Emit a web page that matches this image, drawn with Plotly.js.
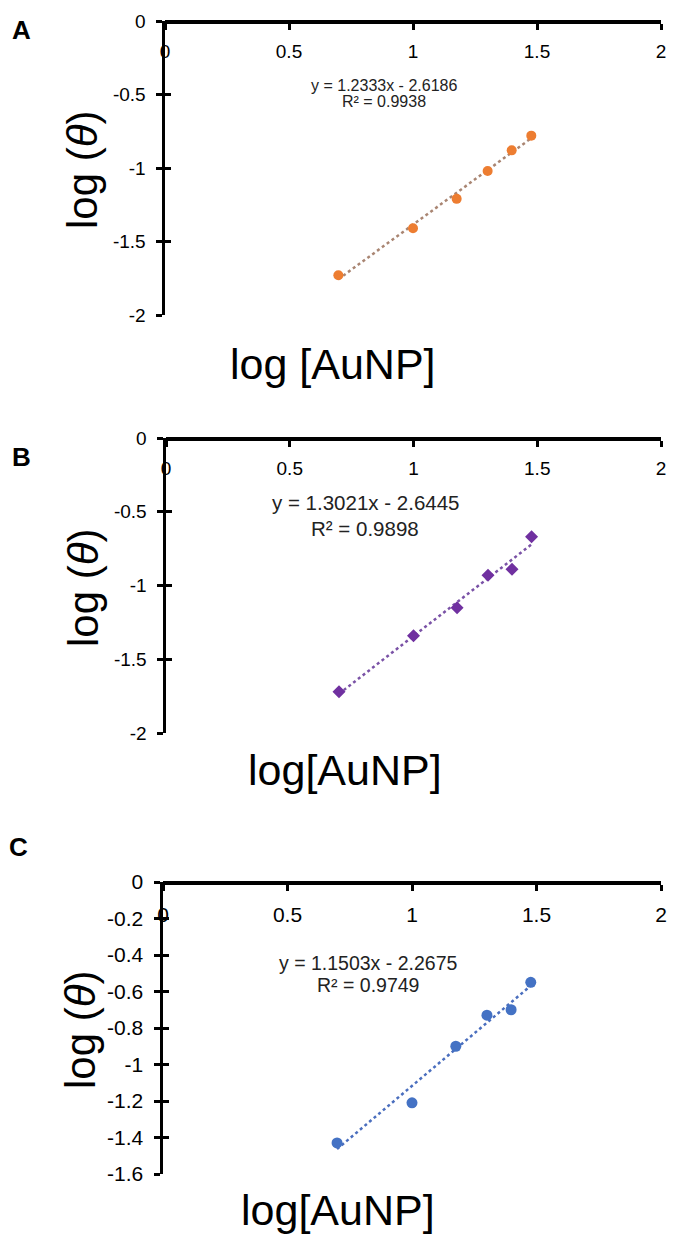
<!DOCTYPE html>
<html>
<head>
<meta charset="utf-8">
<script src="https://cdn.plot.ly/plotly-3.0.1.min.js"></script>
<style>html,body{margin:0;padding:0;background:#fff;}#chart{width:673px;height:1236px;}</style>
</head>
<body>
<div id="chart"></div>
<script>
// ---- data ----
const logAuNP = [0.699, 1.000, 1.176, 1.301, 1.398, 1.477];
const logThetaA = [-1.73, -1.41, -1.21, -1.02, -0.88, -0.78];
const logThetaB = [-1.72, -1.34, -1.15, -0.93, -0.89, -0.67];
const logThetaC = [-1.43, -1.21, -0.90, -0.73, -0.70, -0.55];
const panelLabels = ['A', 'B', 'C'];
const slopes = [1.2333, 1.3021, 1.1503];
const intercepts = [-2.6186, -2.6445, -2.2675];
const rSquared = ['0.9938', '0.9898', '0.9749'];
const xTitles = ['log [AuNP]', 'log[AuNP]', 'log[AuNP]'];
const xTickVals = [0, 0.5, 1, 1.5, 2];
const yTickValsAB = [0, -0.5, -1, -1.5, -2];
const yTickValsC = [0, -0.2, -0.4, -0.6, -0.8, -1, -1.2, -1.4, -1.6];

// ---- style ----
const FONT = 'Liberation Sans, Arial, sans-serif';
const W = 673, H = 1236;
const px = v => v / W;
const py = v => (H - v) / H;

const panels = [
  {ys: logThetaA, color: '#ED7D31', trend: '#A98572', symbol: 'circle', msize: 10,
   xdom: [165, 661], ydom: [21, 315], yrange: [-2, 0], yticks: yTickValsAB, tfont: 19,
   eqFont: 16, eq: [384, 85, 102], xt: [333, 364], yt: [83, 170], lab: [21, 30]},
  {ys: logThetaB, color: '#7030A0', trend: '#7A52A6', symbol: 'diamond', msize: 10,
   xdom: [166, 661], ydom: [438, 733], yrange: [-2, 0], yticks: yTickValsAB, tfont: 19,
   eqFont: 20.5, eq: [365, 503, 528], xt: [345, 770], yt: [83, 588], lab: [21, 457]},
  {ys: logThetaC, color: '#4472C4', trend: '#4A6EBE', symbol: 'circle', msize: 11,
   xdom: [163, 661], ydom: [882, 1174], yrange: [-1.6, 0], yticks: yTickValsC, tfont: 21,
   eqFont: 19.5, eq: [368, 963, 985], xt: [338, 1210], yt: [80, 1030], lab: [18, 847]}
];

const traces = [];
const layout = {
  width: W, height: H,
  margin: {l: 0, r: 0, t: 0, b: 0},
  paper_bgcolor: '#fff', plot_bgcolor: 'rgba(0,0,0,0)',
  showlegend: false,
  font: {family: FONT, color: '#000'},
  annotations: []
};

panels.forEach((p, i) => {
  const n = i + 1;
  const xa = n === 1 ? 'x' : 'x' + n;
  const ya = n === 1 ? 'y' : 'y' + n;
  const yOver = 'y' + (n + 3);
  const xmin = Math.min(...logAuNP), xmax = Math.max(...logAuNP);
  // invisible copy on the overlay axis so its inner tick half is drawn
  traces.push({
    x: logAuNP, y: p.ys, xaxis: xa, yaxis: yOver, mode: 'markers',
    marker: {opacity: 0, size: 1}, hoverinfo: 'skip'
  });
  // trendline from the regression equation
  traces.push({
    x: [xmin, xmax],
    y: [slopes[i] * xmin + intercepts[i], slopes[i] * xmax + intercepts[i]],
    xaxis: xa, yaxis: ya, mode: 'lines',
    line: {color: p.trend, width: 2.5, dash: 'dot'}, hoverinfo: 'skip'
  });
  traces.push({
    x: logAuNP, y: p.ys, xaxis: xa, yaxis: ya, mode: 'markers',
    marker: {color: p.color, size: p.msize, symbol: p.symbol}
  });

  const ydomain = [py(p.ydom[1]), py(p.ydom[0])];
  layout['xaxis' + (n === 1 ? '' : n)] = {
    domain: [px(p.xdom[0]), px(p.xdom[1])],
    range: [0, 2], anchor: 'free', position: ydomain[1], side: 'bottom',
    tickvals: xTickVals, ticktext: xTickVals.map(String),
    ticks: 'outside', ticklen: 6, tickwidth: 3, tickcolor: '#000',
    showline: true, linewidth: 3.5, linecolor: '#000',
    showgrid: false, zeroline: false, ticklabelstandoff: 6,
    tickfont: {family: FONT, size: p.tfont, color: '#000'}
  };
  layout['yaxis' + (n === 1 ? '' : n)] = {
    domain: ydomain, range: p.yrange, anchor: xa,
    tickvals: p.yticks, ticktext: p.yticks.map(String),
    ticks: 'outside', ticklen: 6, tickwidth: 3, tickcolor: '#000',
    showline: true, linewidth: 3.5, linecolor: '#000',
    showgrid: false, zeroline: false, ticklabelstandoff: 6,
    tickfont: {family: FONT, size: p.tfont, color: '#000'}
  };
  layout['yaxis' + (n + 3)] = {
    domain: ydomain, range: p.yrange, anchor: xa, overlaying: ya, side: 'left',
    tickvals: p.yticks, showticklabels: false,
    ticks: 'inside', ticklen: 6, tickwidth: 3, tickcolor: '#000',
    showline: false, showgrid: false, zeroline: false
  };

  const fit = (slopes[i]).toFixed(4) + 'x - ' + Math.abs(intercepts[i]).toFixed(4);
  layout.annotations.push(
    {xref: 'paper', yref: 'paper', x: px(p.eq[0]), y: py(p.eq[1]), text: 'y = ' + fit,
     showarrow: false, xanchor: 'center', yanchor: 'middle', font: {family: FONT, size: p.eqFont, color: '#222'}},
    {xref: 'paper', yref: 'paper', x: px(p.eq[0]), y: py(p.eq[2]), text: 'R² = ' + rSquared[i],
     showarrow: false, xanchor: 'center', yanchor: 'middle', font: {family: FONT, size: p.eqFont, color: '#222'}},
    {xref: 'paper', yref: 'paper', x: px(p.xt[0]), y: py(p.xt[1]), text: xTitles[i],
     showarrow: false, xanchor: 'center', yanchor: 'middle', font: {family: FONT, size: 43, color: '#000'}},
    {xref: 'paper', yref: 'paper', x: px(p.yt[0]), y: py(p.yt[1]), text: 'log (<i>θ</i>)', textangle: -90,
     showarrow: false, xanchor: 'center', yanchor: 'middle', font: {family: FONT, size: 42, color: '#000'}},
    {xref: 'paper', yref: 'paper', x: px(p.lab[0]), y: py(p.lab[1]), text: '<b>' + panelLabels[i] + '</b>',
     showarrow: false, xanchor: 'center', yanchor: 'middle', font: {family: FONT, size: 26, color: '#000'}}
  );
});

Plotly.newPlot('chart', traces, layout, {displayModeBar: false, staticPlot: true});
</script>
</body>
</html>
